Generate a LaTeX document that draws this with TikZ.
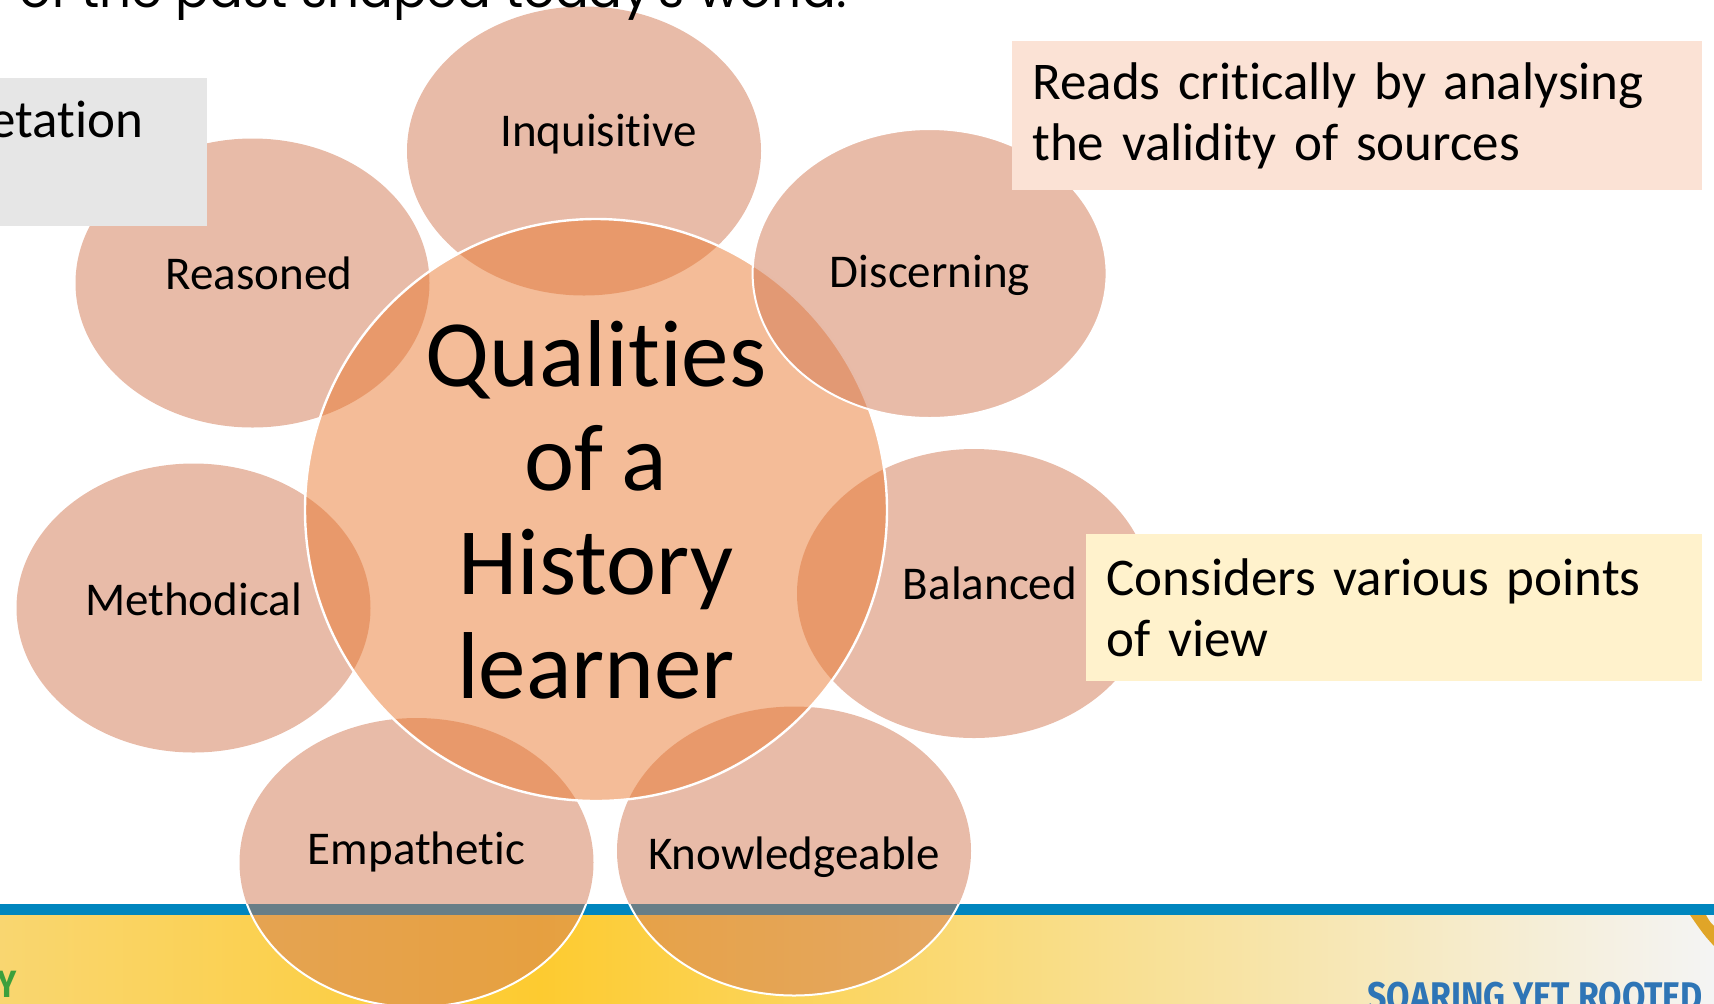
\documentclass[tikz,border=0pt]{standalone}
\usepackage{fontspec}
\setmainfont[Ligatures=NoCommon, WordSpace=0.85]{Carlito}
\newfontfamily\headingfont{Poppins}
\newfontfamily\mottofont[FakeStretch=0.85]{Fira Sans}
\usetikzlibrary{shapes.geometric}

\definecolor{petalc}{RGB}{209,119,81}
\definecolor{hubc}{RGB}{233,121,49}
\definecolor{noteA}{RGB}{251,226,213}
\definecolor{noteB}{RGB}{255,242,204}
\definecolor{noteG}{RGB}{230,230,230}
\definecolor{stripe}{RGB}{0,134,190}
\definecolor{bannerL}{RGB}{249,214,112}
\definecolor{sunny}{RGB}{253,203,48}
\definecolor{bannerM}{RGB}{246,228,170}
\definecolor{bannerR}{RGB}{244,244,244}
\definecolor{mottoc}{RGB}{46,117,182}
\definecolor{leafc}{RGB}{60,160,60}
\definecolor{goldc}{RGB}{224,165,40}

\begin{document}
\begin{tikzpicture}[x=0.5pt,y=-0.5pt]
\tikzstyle{every node}=[font=\fontsize{23.5}{28}\selectfont]
\tikzstyle{petal}=[ellipse, fill=petalc, fill opacity=0.5, minimum width=177pt, minimum height=144.5pt, inner sep=0pt]
\tikzstyle{quality}=[anchor=base, inner sep=0pt]
\tikzstyle{note}=[anchor=north west, inner xsep=10.3pt, inner ysep=0pt, align=left, font=\fontsize{26.5}{30.5}\selectfont]

\useasboundingbox (0,0) rectangle (1714,1003);

% banner at the bottom
\fill[stripe] (0,904) rectangle (1714,915);
\shade[left color=bannerL, right color=sunny] (0,915) rectangle (541,1003);
\shade[left color=sunny, middle color=bannerM, right color=bannerR] (540,915) rectangle (1714,1003);
\fill[goldc] (1690,915) -- (1706,915) .. controls (1710,922) .. (1714,926) -- (1714,946) .. controls (1704,935) .. (1690,915) -- cycle;
\node[anchor=base east, inner sep=0pt, text=leafc, font=\mottofont\bfseries\fontsize{19}{19}\selectfont] (leaf) at (17.5,997) {Y};
\node[anchor=base west, inner sep=0pt, text=mottoc, font=\mottofont\bfseries\fontsize{20}{20}\selectfont] (motto) at (1367,1010) {SOARING YET ROOTED};

% petals
\node[petal] (inq) at (584,151) {};
\node[petal] (rea) at (252.5,283) {};
\node[petal] (met) at (193.5,608) {};
\node[petal] (bal) at (974,593.5) {};
\node[petal] (emp) at (416.5,862.5) {};
\node[petal] (kno) at (794,851) {};

\begin{scope}
\clip (0,904) rectangle (1714,1003);
\draw[white, line width=1pt] (emp.center) ellipse (177 and 144.5);
\draw[white, line width=1pt] (kno.center) ellipse (177 and 144.5);
\end{scope}

% centre
\node[circle, fill=hubc, fill opacity=0.5, text opacity=1, draw=white, line width=1.2pt, minimum size=291pt, align=center, font=\fontsize{47.5}{52}\selectfont] (hub) at (596,510) {Qualities\\of a\\History\\learner};

\node[petal, draw=white, line width=1pt] (dis) at (929.6,273.5) {};

\node[quality] (inqlab) at (598.5,146) {Inquisitive};
\node[quality] (realab) at (259,289) {Reasoned};
\node[quality] (dislab) at (930,287) {Discerning};
\node[quality] (metlab) at (193.5,615) {Methodical};
\node[quality] (ballab) at (990,599) {Balanced};
\node[quality] (emplab) at (416.5,864) {Empathetic};
\node[quality] (knolab) at (794,869) {Knowledgeable};

% notes
\node[note, fill=noteG, minimum width=103.85pt, minimum height=74.2pt] (interp) at (-1,77.3) {};
\node[anchor=base east, inner sep=0pt, font=\fontsize{26.5}{30.5}\selectfont] (interplab) at (143.5,137) {etation};
\node[note, fill=noteA, text width=324.3pt, minimum height=74.3pt] (reads) at (1011.4,40.7) {Reads critically by analysing\\the validity of sources};
\node[note, fill=noteB, text width=287.2pt, minimum height=73.75pt] (views) at (1085.5,533.5) {Considers various points\\of view};

\node[anchor=base east, inner sep=0pt, font=\headingfont\fontsize{25}{25}\selectfont] (heading) at (847,7) {of the past shaped today's world.};

\end{tikzpicture}
\end{document}
